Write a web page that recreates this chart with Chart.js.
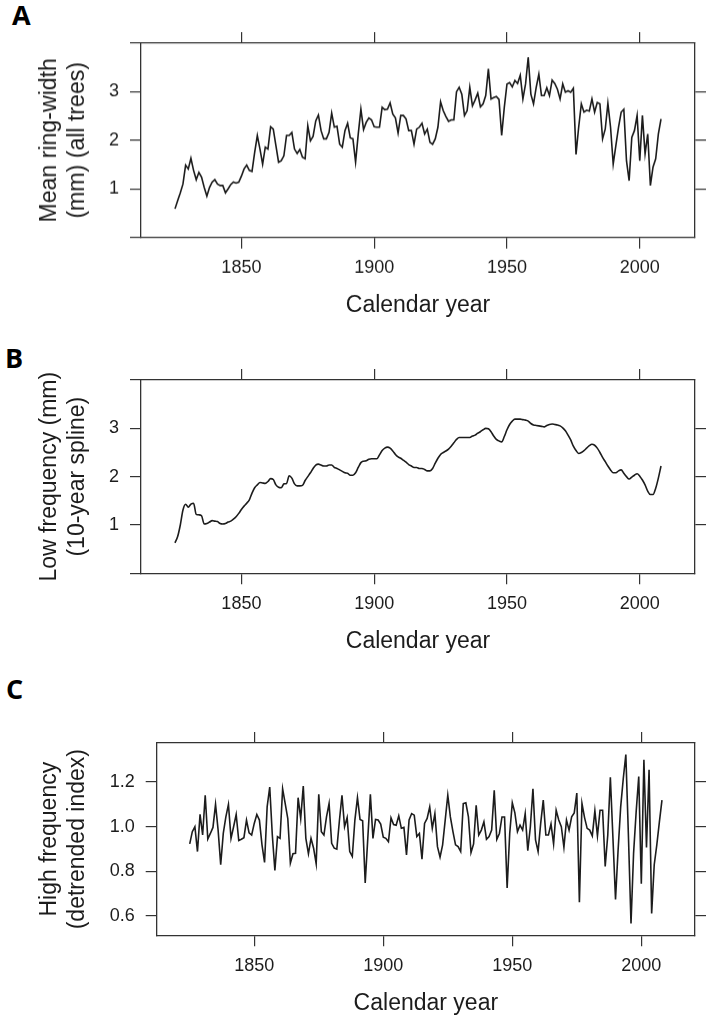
<!DOCTYPE html>
<html lang="en">
<head>
<meta charset="UTF-8">
<title>Ring-width chronology</title>
<script src="https://cdn.jsdelivr.net/npm/chart.js"></script>
<style>
  body { margin: 0; background: #fff; }
  .page { position: relative; width: 714px; height: 1024px; overflow: hidden; }
  .panel { position: absolute; left: 0; width: 714px; }
  .tag {
    position: absolute;
    font-family: "Open Sans", sans-serif;
    font-weight: 700;
    font-size: 27px;
    line-height: 1;
    color: #000;
  }
</style>
</head>
<body>
<div class="page">
  <div class="tag" style="left:12px; top:1px;">A</div>
  <div class="tag" style="left:5px; top:344px;">B</div>
  <div class="tag" style="left:6px; top:675px;">C</div>
  <div class="panel" id="boxA"><canvas id="chartA"></canvas></div>
  <div class="panel" id="boxB"><canvas id="chartB"></canvas></div>
  <div class="panel" id="boxC"><canvas id="chartC"></canvas></div>
</div>

<script>
// first calendar year of every series, one value per year after that
const firstYear = 1825;
const yearTicks = [1850, 1900, 1950, 2000];

// A: mean ring-width, all trees (mm), 1825-2008
const ringWidth = [
  0.59, 0.76, 0.92, 1.10, 1.49, 1.41, 1.63, 1.38, 1.19, 1.34,
  1.24, 1.03, 0.85, 1.03, 1.14, 1.19, 1.10, 1.07, 1.07, 0.92,
  1.00, 1.09, 1.14, 1.12, 1.14, 1.26, 1.41, 1.49, 1.38, 1.36,
  1.75, 2.10, 1.82, 1.51, 1.86, 1.82, 2.28, 2.23, 1.89, 1.55,
  1.58, 1.68, 2.10, 2.10, 2.16, 1.82, 1.73, 1.81, 1.65, 1.62,
  2.30, 1.99, 2.08, 2.40, 2.52, 2.20, 2.03, 2.03, 2.16, 2.56,
  2.27, 2.29, 1.92, 1.86, 2.20, 2.35, 2.05, 2.03, 1.55, 2.13,
  2.64, 2.22, 2.37, 2.46, 2.42, 2.28, 2.27, 2.27, 2.68, 2.63,
  2.64, 2.77, 2.54, 2.46, 2.15, 2.51, 2.51, 2.44, 2.20, 2.20,
  1.92, 2.23, 2.27, 2.35, 2.13, 2.23, 1.96, 1.92, 2.03, 2.27,
  2.79, 2.61, 2.49, 2.39, 2.42, 2.42, 3.00, 3.09, 2.95, 2.51,
  2.61, 3.09, 2.71, 2.83, 2.97, 2.69, 2.75, 2.92, 3.47, 2.85,
  2.88, 2.90, 2.84, 2.10, 2.68, 3.16, 3.19, 3.10, 3.23, 3.17,
  3.34, 2.85, 3.16, 3.71, 2.95, 2.75, 3.09, 3.36, 2.92, 2.92,
  3.08, 2.92, 3.24, 3.17, 3.05, 2.85, 3.16, 2.99, 3.02, 2.99,
  3.07, 1.71, 2.27, 2.75, 2.58, 2.62, 2.60, 2.85, 2.58, 2.78,
  2.75, 2.03, 2.23, 2.76, 2.27, 1.51, 1.89, 2.27, 2.58, 2.64,
  1.58, 1.17, 2.06, 2.20, 2.51, 1.58, 2.51, 1.72, 2.13, 1.07,
  1.45, 1.62, 2.13, 2.44
];

// B: low frequency, 10-year spline (mm)
const lowFreq = [
  0.63, 0.76, 1.00, 1.31, 1.43, 1.37, 1.43, 1.45, 1.22, 1.21,
  1.19, 1.02, 1.03, 1.06, 1.09, 1.08, 1.07, 1.03, 1.02, 1.03,
  1.06, 1.08, 1.12, 1.17, 1.24, 1.32, 1.39, 1.45, 1.52, 1.66,
  1.77, 1.83, 1.88, 1.87, 1.86, 1.90, 1.96, 1.94, 1.83, 1.78,
  1.77, 1.85, 1.86, 2.02, 1.97, 1.85, 1.81, 1.81, 1.82, 1.92,
  2.00, 2.08, 2.17, 2.24, 2.26, 2.24, 2.22, 2.22, 2.24, 2.24,
  2.19, 2.17, 2.14, 2.11, 2.08, 2.07, 2.03, 2.03, 2.08, 2.19,
  2.29, 2.32, 2.33, 2.36, 2.37, 2.37, 2.37, 2.45, 2.54, 2.59,
  2.61, 2.59, 2.53, 2.46, 2.41, 2.38, 2.34, 2.30, 2.25, 2.22,
  2.19, 2.19, 2.17, 2.17, 2.15, 2.12, 2.12, 2.17, 2.28, 2.38,
  2.46, 2.50, 2.53, 2.57, 2.63, 2.70, 2.77, 2.81, 2.81, 2.81,
  2.81, 2.81, 2.84, 2.86, 2.90, 2.93, 2.97, 3.00, 2.99, 2.93,
  2.84, 2.77, 2.74, 2.72, 2.83, 2.97, 3.08, 3.15, 3.19, 3.19,
  3.19, 3.18, 3.17, 3.15, 3.10, 3.07, 3.06, 3.05, 3.04, 3.03,
  3.06, 3.08, 3.09, 3.08, 3.07, 3.05, 3.01, 2.95, 2.86, 2.76,
  2.63, 2.54, 2.48, 2.50, 2.54, 2.59, 2.64, 2.67, 2.65, 2.59,
  2.50, 2.40, 2.31, 2.22, 2.14, 2.08, 2.08, 2.12, 2.14, 2.07,
  2.00, 1.95, 1.99, 2.03, 2.06, 2.01, 1.93, 1.83, 1.70, 1.63,
  1.63, 1.76, 1.97, 2.22
];

// C: high frequency, detrended index
const highFreq = [
  0.923, 0.978, 1.000, 0.889, 1.056, 0.963, 1.141, 0.945, 0.970, 0.997,
  1.100, 0.985, 0.830, 0.970, 1.044, 1.100, 0.948, 1.000, 1.055, 0.938,
  0.944, 0.951, 1.030, 0.973, 0.963, 1.015, 1.055, 1.030, 0.919, 0.840,
  1.089, 1.178, 0.963, 0.804, 0.956, 0.948, 1.170, 1.104, 1.037, 0.837,
  0.879, 0.881, 1.130, 1.037, 1.182, 0.948, 0.879, 0.948, 0.904, 0.834,
  1.145, 0.978, 0.963, 1.044, 1.104, 0.926, 0.904, 0.900, 1.027, 1.141,
  1.000, 1.041, 0.889, 0.867, 1.030, 1.130, 1.033, 1.027, 0.748, 0.948,
  1.145, 0.948, 1.033, 1.030, 1.012, 0.953, 0.948, 0.933, 1.040, 1.010,
  1.007, 1.049, 0.993, 0.997, 0.874, 1.030, 1.059, 1.052, 0.956, 0.970,
  0.855, 1.015, 1.037, 1.089, 0.993, 1.059, 0.911, 0.864, 0.919, 1.030,
  1.141, 1.044, 0.978, 0.919, 0.911, 0.889, 1.104, 1.107, 1.044, 0.884,
  0.923, 1.096, 0.963, 0.985, 1.022, 0.944, 0.956, 0.985, 1.163, 0.944,
  0.970, 1.044, 1.044, 0.726, 0.970, 1.107, 1.062, 0.978, 1.007, 0.985,
  1.059, 0.893, 1.000, 1.170, 0.941, 0.889, 1.015, 1.119, 0.963, 0.963,
  1.012, 0.923, 1.074, 1.030, 1.000, 0.908, 1.030, 0.985, 1.044, 1.062,
  1.151, 0.662, 1.104, 1.041, 0.993, 0.985, 0.959, 1.071, 0.959, 1.074,
  1.074, 0.822, 0.963, 1.222, 0.950, 0.674, 0.896, 1.089, 1.215, 1.323,
  0.960, 0.567, 0.881, 1.067, 1.225, 0.745, 1.300, 0.907, 1.255, 0.612,
  0.830, 0.919, 1.022, 1.119
];

const ticksAB = [0, 1, 2, 3, 4];
const ticksABright = [1, 2, 3];
const ticksC = [0.6, 0.8, 1.0, 1.2];

const fontFamily = '"Liberation Sans", Arial, sans-serif';
const ink = '#1c1c1c';
const frameColor = '#333';

function setTicks(list) {
  return scale => { scale.ticks = list.map(v => ({ value: v })); };
}

function axisLines() {
  return {
    grid: { drawOnChartArea: false, drawTicks: true, tickLength: 11, color: frameColor, lineWidth: 1.2 },
    border: { display: true, color: frameColor, width: 1.3 }
  };
}

// build one lattice-style panel: frame, ticks on four sides, labels left and bottom
function makePanel(canvasId, boxId, values, p) {
  const topAxisH = 43, bottomAxisH = 82;
  const box = document.getElementById(boxId);
  box.style.top = (p.frameTop - topAxisH) + 'px';
  box.style.height = (p.frameBottom - p.frameTop + topAxisH + bottomAxisH) + 'px';

  const points = values.map((v, i) => ({ x: firstYear + i, y: v }));

  return new Chart(document.getElementById(canvasId), {
    type: 'line',
    data: {
      datasets: [{
        data: points,
        borderColor: ink,
        borderWidth: 1.6,
        pointRadius: 0,
        fill: false,
        cubicInterpolationMode: p.smooth ? 'monotone' : 'default',
        tension: 0,
        xAxisID: 'x',
        yAxisID: 'y'
      }]
    },
    options: {
      responsive: true,
      maintainAspectRatio: false,
      animation: false,
      layout: { padding: 0 },
      plugins: { legend: { display: false }, tooltip: { enabled: false } },
      scales: {
        x: {
          type: 'linear', position: 'bottom', min: 1812.2, max: 2020.8,
          afterBuildTicks: setTicks(yearTicks),
          afterFit: s => { s.height = bottomAxisH; },
          ticks: {
            autoSkip: false, maxRotation: 0, padding: 9, color: ink,
            font: { family: fontFamily, size: 18 },
            callback: v => String(v)
          },
          title: {
            display: true, text: 'Calendar year', color: ink, padding: 0,
            font: { family: fontFamily, size: 23, lineHeight: 1.2 }
          },
          ...axisLines()
        },
        x2: {
          type: 'linear', position: 'top', min: 1812.2, max: 2020.8,
          afterBuildTicks: setTicks(yearTicks),
          afterFit: s => { s.height = topAxisH; },
          ticks: { display: false },
          ...axisLines()
        },
        y: {
          type: 'linear', position: 'left', min: p.yMin, max: p.yMax,
          afterBuildTicks: setTicks(p.leftTicks),
          afterFit: s => { s.width = p.frameLeft; },
          ticks: {
            autoSkip: false, padding: 11, color: ink,
            font: { family: fontFamily, size: 18 },
            callback: p.label
          },
          title: {
            display: true, text: p.yTitle, color: ink,
            padding: { top: 36, bottom: 0 },
            font: { family: fontFamily, size: 23, lineHeight: 1.22 }
          },
          ...axisLines()
        },
        y2: {
          type: 'linear', position: 'right', min: p.yMin, max: p.yMax,
          afterBuildTicks: setTicks(p.rightTicks),
          afterFit: s => { s.width = 714 - p.frameRight; },
          ticks: { display: false },
          ...axisLines()
        }
      }
    }
  });
}

const wholeLabel = v => (v >= 1 && v <= 3) ? String(v) : '';

makePanel('chartA', 'boxA', ringWidth, {
  frameTop: 43, frameBottom: 236.7, frameLeft: 141, frameRight: 695,
  yMin: 0, yMax: 4, leftTicks: ticksAB, rightTicks: ticksABright,
  label: wholeLabel, yTitle: ['Mean ring-width', '(mm) (all trees)']
});

makePanel('chartB', 'boxB', lowFreq, {
  frameTop: 380, frameBottom: 573.3, frameLeft: 141, frameRight: 695, smooth: true,
  yMin: 0, yMax: 4, leftTicks: ticksAB, rightTicks: ticksABright,
  label: wholeLabel, yTitle: ['Low frequency (mm)', '(10-year spline)']
});

makePanel('chartC', 'boxC', highFreq, {
  frameTop: 742.7, frameBottom: 935, frameLeft: 156.7, frameRight: 695,
  yMin: 0.514, yMax: 1.375, leftTicks: ticksC, rightTicks: ticksC,
  label: v => v.toFixed(1), yTitle: ['High frequency', '(detrended index)']
});
</script>
</body>
</html>
